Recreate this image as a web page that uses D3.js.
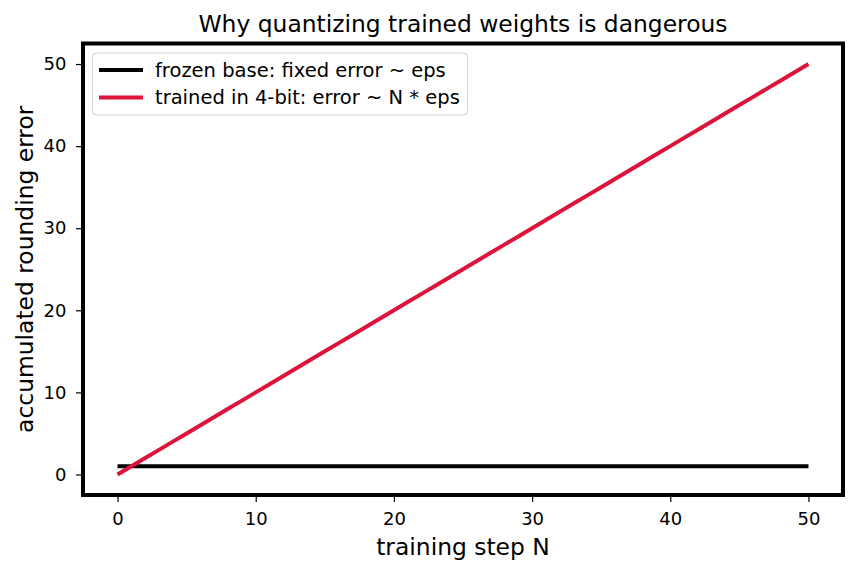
<!DOCTYPE html>
<html><head><meta charset="utf-8">
<script src="https://cdn.jsdelivr.net/npm/d3@7"></script>
<style>body{margin:0;background:#fff;} text{font-family:"DejaVu Sans",sans-serif;}</style>
</head><body><svg id="c" width="856" height="573"></svg>
<script>
const steps = d3.range(0, 51);
const frozenErr = steps.map(() => 1);
const trainedErr = steps.map(n => n);
const xTicks = [0, 10, 20, 30, 40, 50];
const yTicks = [0, 10, 20, 30, 40, 50];
const seriesNames = ["frozen base: fixed error ~ eps", "trained in 4-bit: error ~ N * eps"];
const seriesColors = ["#000000", "#DC143C"];

const svg = d3.select("#c");
const L = 83, R = 843, T = 43.5, B = 495;
const x = d3.scaleLinear().domain([-2.5, 52.5]).range([L, R]);
const y = d3.scaleLinear().domain([-2.5, 52.5]).range([B, T]);

svg.append("rect").attr("width", 856).attr("height", 573).attr("fill", "#fff");

const line = d3.line().x(d => x(d[0])).y(d => y(d[1]));
const series = [frozenErr, trainedErr];
series.forEach((vals, i) => {
  svg.append("path").datum(steps.map((s, j) => [s, vals[j]]))
    .attr("d", line).attr("fill", "none").attr("stroke", seriesColors[i])
    .attr("stroke-width", 4);
});

const xa = svg.append("g").attr("transform", `translate(0,${B})`)
  .call(d3.axisBottom(x).tickValues(xTicks).tickSize(7).tickPadding(10));
const ya = svg.append("g").attr("transform", `translate(${L},0)`)
  .call(d3.axisLeft(y).tickValues(yTicks).tickSize(7).tickPadding(9.5));
[xa, ya].forEach(a => {
  a.select(".domain").remove();
  a.selectAll("text").attr("font-size", 18).attr("fill", "#000").attr("font-family", "DejaVu Sans");
  a.selectAll("line").attr("stroke", "#000").attr("stroke-width", 1.2);
});

svg.append("rect").attr("x", L).attr("y", T).attr("width", R - L).attr("height", B - T)
  .attr("fill", "none").attr("stroke", "#000").attr("stroke-width", 4);

svg.append("text").attr("x", (L + R) / 2).attr("y", 31.5).attr("text-anchor", "middle")
  .attr("font-size", 23.4).text("Why quantizing trained weights is dangerous");
svg.append("text").attr("x", (L + R) / 2).attr("y", 555).attr("text-anchor", "middle")
  .attr("font-size", 23.4).text("training step N");
svg.append("text").attr("transform", `translate(33,${(T + B) / 2}) rotate(-90)`)
  .attr("text-anchor", "middle").attr("font-size", 23.4).text("accumulated rounding error");

const lg = svg.append("g");
lg.append("rect").attr("x", 92.5).attr("y", 53).attr("width", 375).attr("height", 62).attr("rx", 4)
  .attr("fill", "#fff").attr("fill-opacity", 0.8).attr("stroke", "#d6d6d6").attr("stroke-width", 1);
seriesNames.forEach((n, i) => {
  const yy = 70 + i * 27.5;
  lg.append("line").attr("x1", 99).attr("x2", 143).attr("y1", yy).attr("y2", yy)
    .attr("stroke", seriesColors[i]).attr("stroke-width", 4);
  lg.append("text").attr("x", 155).attr("y", yy).attr("dy", "0.35em").attr("font-size", 19.5).text(n);
});
</script></body></html>
